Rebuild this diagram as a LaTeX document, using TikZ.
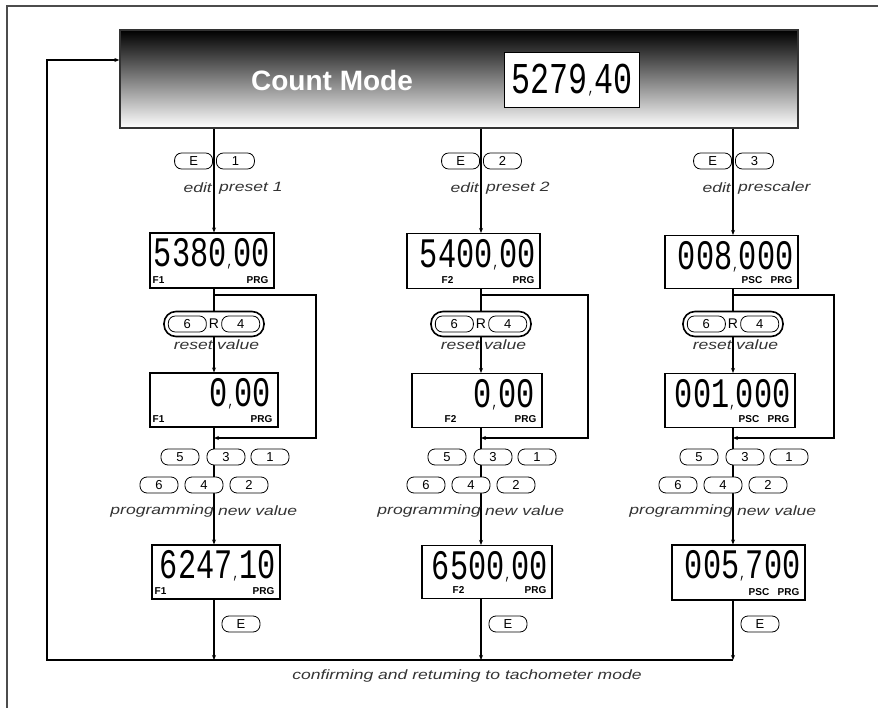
\documentclass[tikz,border=0pt]{standalone}
\usepackage{fontspec}
\setsansfont{Liberation Sans}
\newfontfamily\segfont[FakeStretch=0.72]{Liberation Mono}
\newfontfamily\notefont[FakeStretch=1.3]{Liberation Sans}
\usetikzlibrary{positioning,arrows.meta}
\newcommand{\dcm}{{\fontsize{15}{15}\selectfont ,}}

\begin{document}
\begin{tikzpicture}[x=1pt, y=-1pt, >={Stealth[length=5pt,width=4pt]},
    flow/.style={draw, line width=1.1pt, ->},
    hdr/.style={draw=black!80, line width=1.3pt, top color=black, bottom color=white, inner sep=0pt},
    lcd/.style={draw, line width=1.1pt, fill=white, inner sep=0pt},
    lcddigits/.style={font=\segfont\fontsize{42}{42}\selectfont, inner sep=0pt},
    lcdtag/.style={font=\sffamily\bfseries\fontsize{10}{10}\selectfont, inner sep=0pt},
    btn/.style={draw, line width=0.8pt, rounded corners=7pt, fill=white, minimum width=38pt,
        minimum height=16pt, inner sep=0pt, font=\sffamily\fontsize{13}{13}\selectfont},
    btngroup/.style={draw, line width=1.6pt, rounded corners=12pt, fill=white,
        minimum width=100pt, minimum height=25pt},
    note/.style={font=\notefont\itshape\fontsize{13.5}{15}\selectfont, text=black!80, inner sep=0pt}]

    \useasboundingbox (0,0) rectangle (878,708);

    % Frame
    \draw[line width=1.5pt, black!70] (7,708) -- (7,6) -- (878,6);

    % Header with the running count
    \node[hdr, minimum width=678pt, minimum height=98pt] (hdr) at (459,79) {};
    \node[font=\sffamily\bfseries\fontsize{28}{30}\selectfont, text=white] (title) at (332,80) {Count Mode};
    \node[lcd, minimum width=135pt, minimum height=55pt] (hdrlcd) at (572,80) {};
    \node[lcddigits, font=\segfont\fontsize{44}{44}\selectfont, anchor=base] (hdrval) at ([yshift=-14pt]hdrlcd.center) {5279\dcm40};

    % Column 1: preset 1
    \node[lcd, minimum width=124pt, minimum height=55pt] (lcdA1) at (212,260.5) {};
    \node[lcddigits, below left=6pt and 5pt of lcdA1.north east] (valA1) {5380\dcm00};
    \node[lcdtag, above right=5pt and 3pt of lcdA1.south west] (tagA1) {F1};
    \node[lcdtag, above left=5pt and 6pt of lcdA1.south east] (prgA1) {PRG};

    \node[lcd, minimum width=128pt, minimum height=54pt] (lcdB1) at (214,400) {};
    \node[lcddigits, below left=6pt and 8pt of lcdB1.north east] (valB1) {0\dcm00};
    \node[lcdtag, above right=5pt and 3pt of lcdB1.south west] (tagB1) {F1};
    \node[lcdtag, above left=5pt and 6pt of lcdB1.south east] (prgB1) {PRG};

    \node[lcd, minimum width=128pt, minimum height=54pt] (lcdC1) at (216,572) {};
    \node[lcddigits, below left=6pt and 5pt of lcdC1.north east] (valC1) {6247\dcm10};
    \node[lcdtag, above right=5pt and 3pt of lcdC1.south west] (tagC1) {F1};
    \node[lcdtag, above left=5pt and 6pt of lcdC1.south east] (prgC1) {PRG};

    % Column 2: preset 2
    \node[lcd, minimum width=133pt, minimum height=55pt] (lcdA2) at (473.5,261) {};
    \node[lcddigits, below left=6pt and 5pt of lcdA2.north east] (valA2) {5400\dcm00};
    \node[lcdtag, above right=5pt and 35pt of lcdA2.south west] (tagA2) {F2};
    \node[lcdtag, above left=5pt and 6pt of lcdA2.south east] (prgA2) {PRG};

    \node[lcd, minimum width=130pt, minimum height=54pt] (lcdB2) at (477,400.5) {};
    \node[lcddigits, below left=6pt and 8pt of lcdB2.north east] (valB2) {0\dcm00};
    \node[lcdtag, above right=5pt and 33pt of lcdB2.south west] (tagB2) {F2};
    \node[lcdtag, above left=5pt and 6pt of lcdB2.south east] (prgB2) {PRG};

    \node[lcd, minimum width=130pt, minimum height=53pt] (lcdC2) at (487,572) {};
    \node[lcddigits, below left=6pt and 5pt of lcdC2.north east] (valC2) {6500\dcm00};
    \node[lcdtag, above right=5pt and 31pt of lcdC2.south west] (tagC2) {F2};
    \node[lcdtag, above left=5pt and 6pt of lcdC2.south east] (prgC2) {PRG};

    % Column 3: prescaler
    \node[lcd, minimum width=133pt, minimum height=53pt] (lcdA3) at (731.5,262) {};
    \node[lcddigits, below left=6pt and 5pt of lcdA3.north east] (valA3) {008\dcm000};
    \node[lcdtag, above left=5pt and 6pt of lcdA3.south east] (prgA3) {PRG};
    \node[lcdtag, left=8pt of prgA3] (tagA3) {PSC};

    \node[lcd, minimum width=130pt, minimum height=54pt] (lcdB3) at (730,400.5) {};
    \node[lcddigits, below left=6pt and 5pt of lcdB3.north east] (valB3) {001\dcm000};
    \node[lcdtag, above left=5pt and 6pt of lcdB3.south east] (prgB3) {PRG};
    \node[lcdtag, left=8pt of prgB3] (tagB3) {PSC};

    \node[lcd, minimum width=133pt, minimum height=55pt] (lcdC3) at (738.5,572.5) {};
    \node[lcddigits, below left=6pt and 5pt of lcdC3.north east] (valC3) {005\dcm700};
    \node[lcdtag, above left=5pt and 6pt of lcdC3.south east] (prgC3) {PRG};
    \node[lcdtag, left=8pt of prgC3] (tagC3) {PSC};

    \coordinate (base) at (47,660);
    \coordinate (ret) at (47,60);

    % Flow and keys of each column
    \foreach \c/\x/\bx/\txt in {1/214/316/preset 1, 2/481/588/preset 2, 3/733/834/prescaler} {
        \coordinate (col\c) at (\x,0);
        \draw[flow] (col\c |- hdr.south) -- (col\c |- lcdA\c.north);
        \draw[flow] (col\c |- lcdA\c.south) -- (col\c |- lcdB\c.north);
        \draw[flow] (col\c |- lcdB\c.south) -- (col\c |- lcdC\c.north);
        \draw[flow] (col\c |- lcdC\c.south) -- (col\c |- base);
        % way round the reset
        \coordinate (skipA\c) at (\bx,295);
        \coordinate (skipB\c) at (\bx,438);
        \draw[flow] (col\c |- skipA\c) -- (skipA\c) -- (skipB\c) -- (col\c |- skipB\c);

        \node[btn, anchor=east] (kE\c) at (\x-1,161) {E};
        \node[btn, anchor=west] (kN\c) at (\x+2,161) {\c};
        \node[note, anchor=east] (edA\c) at (\x-2,188) {edit};
        \node[note, anchor=west] (edB\c) at (\x+5,188) {\txt};

        \node[btngroup] (grp\c) at (\x,324) {};
        \node[font=\sffamily\fontsize{14}{14}\selectfont, inner sep=0pt] (kR\c) at (grp\c) {R};
        \node[btn, left=2pt of kR\c] (kS\c) {6};
        \node[btn, right=2pt of kR\c] (kF\c) {4};
        \node[note, anchor=east] (rsA\c) at (\x-1,345) {reset};
        \node[note, anchor=west] (rsB\c) at (\x+3,345) {value};

        \foreach \k/\dx in {5/-34, 3/12, 1/56}
            \node[btn] (kT\c\k) at (\x+\dx,457) {\k};
        \foreach \k/\dx in {6/-55, 4/-10, 2/35}
            \node[btn] (kU\c\k) at (\x+\dx,485) {\k};
        \node[note, anchor=east] (pgA\c) at (\x,511) {programming};
        \node[note, anchor=west] (pgB\c) at (\x+4,511) {new value};

        \node[btn] (kZ\c) at (\x+27,624) {E};
    }

    % Back to the count mode
    \draw[flow] (col3 |- base) -- (base) -- (ret) -- (hdr.west |- ret);
    \node[note] (msg) at (467,676) {confirming and retuming to tachometer mode};

\end{tikzpicture}
\end{document}
